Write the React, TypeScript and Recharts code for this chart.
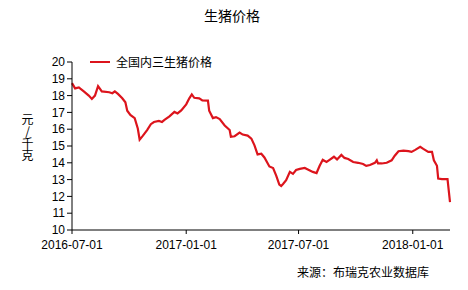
import React from 'react';
import { LineChart, Line, XAxis, YAxis, Legend } from 'recharts';

const dates = [
    '2016-07-01', '2016-07-06', '2016-07-12', '2016-07-20', '2016-07-28', '2016-08-02', '2016-08-07', '2016-08-12',
    '2016-08-18', '2016-08-30', '2016-09-04', '2016-09-08', '2016-09-13', '2016-09-20', '2016-09-25', '2016-09-28',
    '2016-10-03', '2016-10-10', '2016-10-15', '2016-10-18', '2016-10-23', '2016-10-30', '2016-11-05', '2016-11-10',
    '2016-11-18', '2016-11-23', '2016-11-27', '2016-12-05', '2016-12-13', '2016-12-18', '2016-12-24', '2017-01-01',
    '2017-01-06', '2017-01-10', '2017-01-14', '2017-01-22', '2017-01-27', '2017-02-05', '2017-02-07', '2017-02-13',
    '2017-02-18', '2017-02-24', '2017-03-04', '2017-03-12', '2017-03-14', '2017-03-20', '2017-03-28', '2017-04-02',
    '2017-04-10', '2017-04-16', '2017-04-21', '2017-04-26', '2017-05-02', '2017-05-07', '2017-05-15', '2017-05-21',
    '2017-05-26', '2017-05-31', '2017-06-03', '2017-06-06', '2017-06-11', '2017-06-17', '2017-06-22', '2017-06-27',
    '2017-07-03', '2017-07-11', '2017-07-16', '2017-07-24', '2017-07-30', '2017-08-04', '2017-08-09', '2017-08-15',
    '2017-08-20', '2017-08-27', '2017-09-01', '2017-09-08', '2017-09-13', '2017-09-19', '2017-09-27', '2017-10-05',
    '2017-10-13', '2017-10-18', '2017-10-24', '2017-11-01', '2017-11-04', '2017-11-06', '2017-11-12', '2017-11-20',
    '2017-11-28', '2017-12-03', '2017-12-09', '2017-12-17', '2017-12-25', '2017-12-30', '2018-01-05', '2018-01-13',
    '2018-01-18', '2018-01-26', '2018-02-01', '2018-02-04', '2018-02-09', '2018-02-11', '2018-02-17', '2018-02-26',
    '2018-03-02',
];

const prices = [
    18.74, 18.43, 18.49, 18.25, 18.0, 17.8, 18.0, 18.56,
    18.25, 18.2, 18.14, 18.25, 18.1, 17.84, 17.6, 17.1,
    16.85, 16.66, 16.04, 15.38, 15.6, 15.95, 16.3, 16.43,
    16.49, 16.43, 16.55, 16.76, 17.03, 16.94, 17.12, 17.48,
    17.84, 18.07, 17.87, 17.84, 17.72, 17.7, 17.1, 16.66,
    16.72, 16.6, 16.22, 15.95, 15.55, 15.58, 15.8, 15.68,
    15.62, 15.44, 15.04, 14.5, 14.54, 14.32, 13.78, 13.69,
    13.24, 12.7, 12.62, 12.74, 12.97, 13.46, 13.34, 13.57,
    13.64, 13.69, 13.6, 13.46, 13.39, 13.82, 14.18, 14.05,
    14.18, 14.36, 14.2, 14.47, 14.29, 14.23, 14.05, 14.0,
    13.93, 13.82, 13.87, 14.0, 14.15, 13.96, 13.96, 14.0,
    14.15, 14.42, 14.69, 14.72, 14.69, 14.65, 14.77, 14.95,
    14.83, 14.65, 14.65, 14.15, 13.82, 13.06, 13.03, 13.03,
    11.66,
];

const xTickDates = ['2016-07-01', '2017-01-01', '2017-07-01', '2018-01-01'];
const yTicks = [10, 11, 12, 13, 14, 15, 16, 17, 18, 19, 20];

const seriesName = '全国内三生猪价格';
const title = '生猪价格';
const yLabel = '元/千克';
const source = '来源：布瑞克农业数据库';

const data = dates.map((d, i) => ({ t: Date.parse(d), price: prices[i] }));
const xTicks = xTickDates.map((d) => Date.parse(d));

const fmtDate = (v: number) => new Date(v).toISOString().slice(0, 10);

const font = '"Liberation Sans", Arial, sans-serif';
const cjk = '"Noto Sans CJK SC", sans-serif';
const red = '#dc141c';

const renderLegend = () => (
    <div style={{ display: 'flex', alignItems: 'center', fontFamily: cjk, fontSize: 12, color: '#000' }}>
        <span style={{ display: 'inline-block', width: 20, height: 2, background: red, marginRight: 6 }} />
        {seriesName}
    </div>
);

export default function App() {
    return (
        <div style={{ position: 'absolute', left: 0, top: 0, width: 468, height: 290, background: '#fff' }}>
            {/* title */}
            <div style={{ position: 'absolute', left: 0, top: 5, width: 468, textAlign: 'center', fontFamily: cjk, fontSize: 14, color: '#000', marginLeft: -2 }}>
                {title}
            </div>
            {/* vertical unit label, one text run written top to bottom */}
            <div
                style={{
                    position: 'absolute',
                    left: 19,
                    top: 113,
                    writingMode: 'vertical-rl',
                    textOrientation: 'upright',
                    fontFamily: cjk,
                    fontSize: 12,
                    lineHeight: '16px',
                    color: '#000',
                    whiteSpace: 'nowrap',
                }}
            >
                {yLabel}
            </div>
            <LineChart width={468} height={290} data={data} margin={{ top: 45, right: 18, left: 0, bottom: 30 }}>
                <XAxis
                    dataKey="t"
                    type="number"
                    scale="time"
                    domain={[data[0].t, data[data.length - 1].t]}
                    ticks={xTicks}
                    tickFormatter={fmtDate}
                    height={30}
                    tickSize={4}
                    tickMargin={6}
                    stroke="#000"
                    tick={{ fill: '#000', fontSize: 12, fontFamily: font }}
                />
                <YAxis
                    domain={[10, 20]}
                    ticks={yTicks}
                    width={72}
                    tickSize={5}
                    tickMargin={2}
                    stroke="#000"
                    interval={0}
                    tick={{ fill: '#000', fontSize: 12, fontFamily: font }}
                />
                <Legend
                    layout="horizontal"
                    verticalAlign="top"
                    align="left"
                    content={renderLegend}
                    wrapperStyle={{ left: 90, top: 53, width: 200 }}
                />
                <Line
                    type="linear"
                    dataKey="price"
                    name={seriesName}
                    stroke={red}
                    strokeWidth={2.2}
                    dot={false}
                    isAnimationActive={false}
                />
            </LineChart>
            {/* source note */}
            <div style={{ position: 'absolute', left: 297, top: 263, fontFamily: cjk, fontSize: 12, color: '#000', whiteSpace: 'nowrap' }}>
                {source}
            </div>
        </div>
    );
}
